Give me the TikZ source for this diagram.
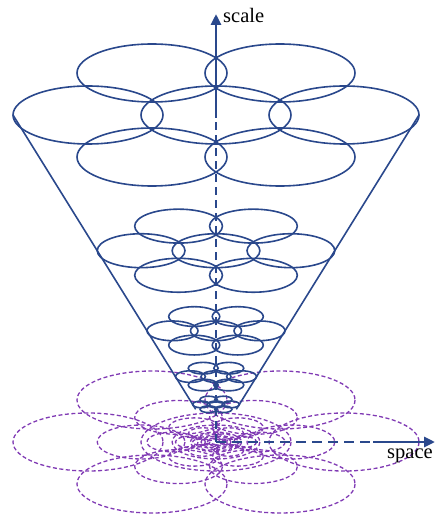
\documentclass[tikz,border=0pt]{standalone}
\usepackage{fontspec}
\setmainfont{Liberation Serif}
\usetikzlibrary{arrows.meta}
\definecolor{axisblue}{RGB}{42,72,140}
\definecolor{gridpurple}{RGB}{128,58,180}
\tikzset{cell/.style={draw=axisblue,line width=1.6pt},
 shadowcell/.style={draw=gridpurple,line width=1.3pt,dash pattern=on 4pt off 2.5pt},
 axisline/.style={draw=axisblue,line width=2.8pt},
 axistip/.style={-{Triangle[length=11pt,width=10pt]}},
 axislabel/.style={font=\fontsize{20.5}{20.5}\selectfont,inner sep=0pt,text=black}}

\begin{document}
\begin{tikzpicture}[x=1pt,y=-1pt]
\useasboundingbox (0,0) rectangle (435,518);

\foreach \s in {1,0.585,0.34,0.2,0.115}
  \foreach \dx/\dy in {0/0,128/0,-128/0,64/42,-64/42,64/-42,-64/-42}
    \draw[shadowcell] ({216+\s*\dx},{442+\s*\dy}) ellipse [x radius=75*\s,y radius=29*\s];

\coordinate (O) at (216,442);
\coordinate (xbreak) at (373,442);
\coordinate (xtip) at (435,442);
\coordinate (zbreak) at (216,118);
\coordinate (ztip) at (216,14);
\coordinate (coneL) at (13,115);
\coordinate (coneR) at (419,115);
\coordinate (apexL) at ({216-203*0.1},{442-327*0.1});
\coordinate (apexR) at ({216+203*0.1},{442-327*0.1});

\draw[axisline,dash pattern=on 10pt off 6pt] (O) -- (xbreak);
\draw[axisline,axistip] (xbreak) -- (xtip);

\draw[cell] (coneL) -- (apexL);
\draw[cell] (coneR) -- (apexR);
\foreach \s in {1,0.585,0.34,0.2,0.115}
  \foreach \dx/\dy in {0/0,128/0,-128/0,64/42,-64/42,64/-42,-64/-42}
    \draw[cell] ({216+\s*\dx},{442-327*\s+\s*\dy}) ellipse [x radius=75*\s,y radius=29*\s];

\draw[axisline,dash pattern=on 8pt off 5pt] (O) -- (zbreak);
\draw[axisline,axistip] (zbreak) -- (ztip);

\node[axislabel,anchor=base west] (scalelbl) at (223,23) {scale};
\node[axislabel,anchor=base west] (spacelbl) at (387,458) {space};
\end{tikzpicture}
\end{document}
